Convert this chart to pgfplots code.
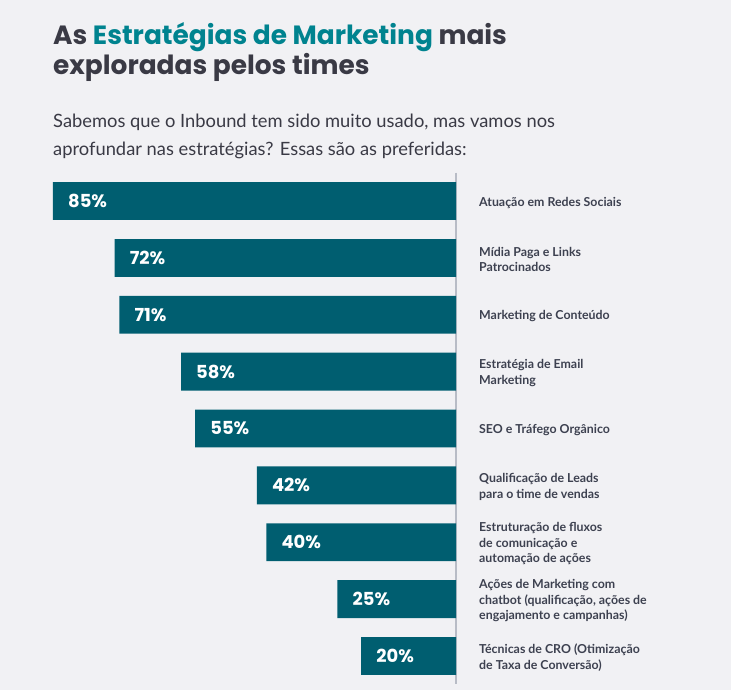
\documentclass[border=0pt]{standalone}
\usepackage{pgfplots}
\pgfplotsset{compat=1.18}
\usepackage{fontspec}
\setmainfont{Lato}
\newfontfamily\titlefont{Poppins}
\definecolor{bg}{HTML}{F1F1F4}
\definecolor{barc}{HTML}{005E70}
\definecolor{teal}{HTML}{00838F}
\definecolor{ink}{HTML}{3A3A45}
\definecolor{lab}{HTML}{3D4150}
\definecolor{rule}{HTML}{B8BCC6}

\begin{document}
\begin{tikzpicture}[x=1bp,y=1bp]
  % page background
  \fill[bg] (0,0) rectangle (731,690);

  % title and intro text
  \node[anchor=base west, inner sep=0pt, text=ink, font=\titlefont\bfseries\fontsize{26.5}{30}\selectfont]
    at (53,645) {As \textcolor{teal}{Estratégias de Marketing} mais};
  \node[anchor=base west, inner sep=0pt, text=ink, font=\titlefont\bfseries\fontsize{26.5}{30}\selectfont]
    at (53,615) {exploradas pelos times};
  \node[anchor=base west, inner sep=0pt, text=ink, font=\fontsize{18.4}{24}\selectfont]
    at (53,562) {Sabemos que o Inbound tem sido muito usado, mas vamos nos};
  \node[anchor=base west, inner sep=0pt, text=ink, font=\fontsize{18.4}{24}\selectfont]
    at (53,534) {aprofundar nas estratégias? Essas são as preferidas:};

  \begin{axis}[
    at={(53bp,5.6bp)}, anchor=south west,
    scale only axis,
    width=403bp, height=511.8bp,
    xbar, bar width=37.8bp, bar shift=0pt,
    xmin=0, xmax=85, x dir=reverse,
    ymin=-0.5, ymax=8.5, y dir=reverse,
    axis x line=none,
    axis y line*=right,
    y axis line style={rule, line width=2bp},
    ytick={0,...,8},
    yticklabels={
      Atuação em Redes Sociais,
      {Mídia Paga e Links\\Patrocinados},
      Marketing de Conteúdo,
      {Estratégia de Email\\Marketing},
      SEO e Tráfego Orgânico,
      {Qualificação de Leads\\para o time de vendas},
      {Estruturação de fluxos\\de comunicação e\\automação de ações},
      {Ações de Marketing com\\chatbot (qualificação, ações de\\engajamento e campanhas)},
      {Técnicas de CRO (Otimização\\de Taxa de Conversão)}},
    major tick length=0pt,
    yticklabel style={anchor=west, align=left, inner sep=0pt, xshift=23bp, yshift=-1.5bp,
      text=lab, font=\bfseries\fontsize{12.4}{15.8}\selectfont},
    /pgf/number format/assume math mode=true,
    nodes near coords={\pgfmathprintnumber{\pgfplotspointmeta}\%},
    every node near coord/.append style={anchor=west, inner sep=0pt, xshift=15bp,
      text=white, font=\titlefont\bfseries\fontsize{18}{20}\selectfont},
    clip=false,
  ]
    \addplot[fill=barc, draw=none] coordinates {
      (85,0) (72,1) (71,2) (58,3) (55,4) (42,5) (40,6) (25,7) (20,8)
    };
  \end{axis}
\end{tikzpicture}
\end{document}
